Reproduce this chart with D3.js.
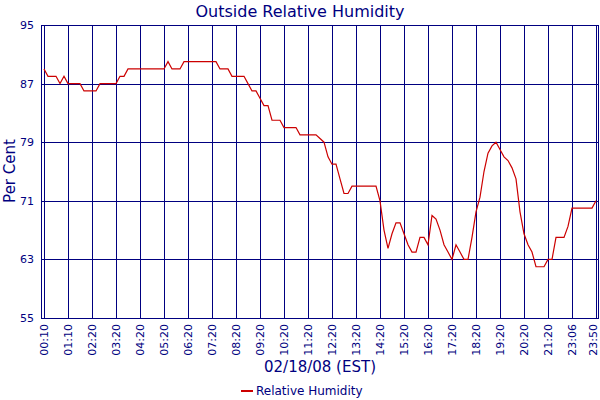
<!DOCTYPE html>
<html>
<head>
<meta charset="utf-8">
<script src="https://cdn.jsdelivr.net/npm/d3@7"></script>
<style>
body { margin: 0; background: #fff; }
text { font-family: "DejaVu Sans", Verdana, sans-serif; fill: #000080; }
</style>
</head>
<body>
<div id="container"></div>
<script>
// readings roughly every 10 minutes, 00:10 to 23:50
const humidity = [
  89, 88, 88, 88, 87, 88, 87, 87, 87, 87,
  86, 86, 86, 86, 87, 87, 87, 87, 87, 88,
  88, 89, 89, 89, 89, 89, 89, 89, 89, 89,
  89, 90, 89, 89, 89, 90, 90, 90, 90, 90,
  90, 90, 90, 90, 89, 89, 89, 88, 88, 88,
  88, 87, 86, 86, 85, 84, 84, 82, 82, 82,
  81, 81, 81, 81, 80, 80, 80, 80, 80, 79.5,
  79, 77, 76, 76, 74, 72, 72, 73, 73, 73,
  73, 73, 73, 73, 71, 67, 64.5, 66.5, 68, 68,
  66.5, 65, 64, 64, 66, 66, 65, 69, 68.5, 67,
  65, 64, 63, 65, 64, 63, 63, 66, 69.5, 71.5,
  75, 77.5, 78.5, 79, 78, 77, 76.5, 75.5, 74, 69.5,
  66.5, 65, 64, 62, 62, 62, 63, 63, 66, 66,
  66, 67.5, 70, 70, 70, 70, 70, 70, 71
];
const tickIndex = [0, 6, 12, 18, 24, 30, 36, 42, 48, 54, 60, 66, 72, 78, 84, 90, 96, 102, 108, 114, 120, 126, 132, 138];
const tickLabels = ['00:10', '01:10', '02:20', '03:20', '04:20', '05:20', '06:20', '07:20', '08:20', '09:20',
  '10:20', '11:20', '12:20', '13:20', '14:20', '15:20', '16:20', '17:20', '18:20', '19:20',
  '20:20', '21:20', '23:06', '23:50'];
const yTicks = [55, 63, 71, 79, 87, 95];

const navy = '#000080';
const svg = d3.select('#container').append('svg')
  .attr('width', 600).attr('height', 400);

const x = d3.scaleLinear().domain([0, humidity.length - 1]).range([44, 596]);
const y = d3.scaleLinear().domain([55, 95]).range([318, 25]);

// frame
svg.append('rect')
  .attr('x', 41.5).attr('y', 25.5).attr('width', 557).attr('height', 293)
  .attr('fill', 'none').attr('stroke', navy).attr('shape-rendering', 'crispEdges');

// grid
svg.append('g').attr('shape-rendering', 'crispEdges')
  .selectAll('line').data(yTicks).join('line')
  .attr('x1', 41).attr('x2', 599)
  .attr('y1', d => Math.round(y(d)) + 0.5).attr('y2', d => Math.round(y(d)) + 0.5)
  .attr('stroke', navy);
svg.append('g').attr('shape-rendering', 'crispEdges')
  .selectAll('line').data(tickIndex).join('line')
  .attr('x1', d => Math.round(x(d)) + 0.5).attr('x2', d => Math.round(x(d)) + 0.5)
  .attr('y1', 25).attr('y2', 318)
  .attr('stroke', navy);

// y labels
svg.append('g').selectAll('text').data(yTicks).join('text')
  .attr('x', 34).attr('y', d => y(d) + 4)
  .attr('text-anchor', 'end')
  .style('font-size', '11px')
  .text(d => d);

// x labels
svg.append('g').selectAll('text').data(tickIndex).join('text')
  .attr('transform', d => `translate(${Math.min(x(d) + 4, 597)},324) rotate(-90)`)
  .attr('text-anchor', 'end')
  .style('font-size', '11px')
  .text((d, i) => tickLabels[i]);

// line
const line = d3.line()
  .x((d, i) => x(i))
  .y(d => y(d));
svg.append('path')
  .datum(humidity)
  .attr('fill', 'none')
  .attr('stroke', '#cc0000')
  .attr('stroke-width', 1.2)
  .attr('d', line);

// titles
svg.append('text').attr('x', 300).attr('y', 17)
  .attr('text-anchor', 'middle').style('font-size', '16px')
  .text('Outside Relative Humidity');
svg.append('text')
  .attr('transform', 'translate(15,171) rotate(-90)')
  .attr('text-anchor', 'middle').style('font-size', '15px')
  .text('Per Cent');
svg.append('text').attr('x', 320).attr('y', 372)
  .attr('text-anchor', 'middle').style('font-size', '15px')
  .text('02/18/08 (EST)');

// legend
svg.append('line')
  .attr('x1', 241).attr('x2', 253).attr('y1', 391).attr('y2', 391)
  .attr('stroke', '#cc0000').attr('stroke-width', 2);
svg.append('text').attr('x', 256).attr('y', 395)
  .style('font-size', '12px')
  .text('Relative Humidity');
</script>
</body>
</html>
